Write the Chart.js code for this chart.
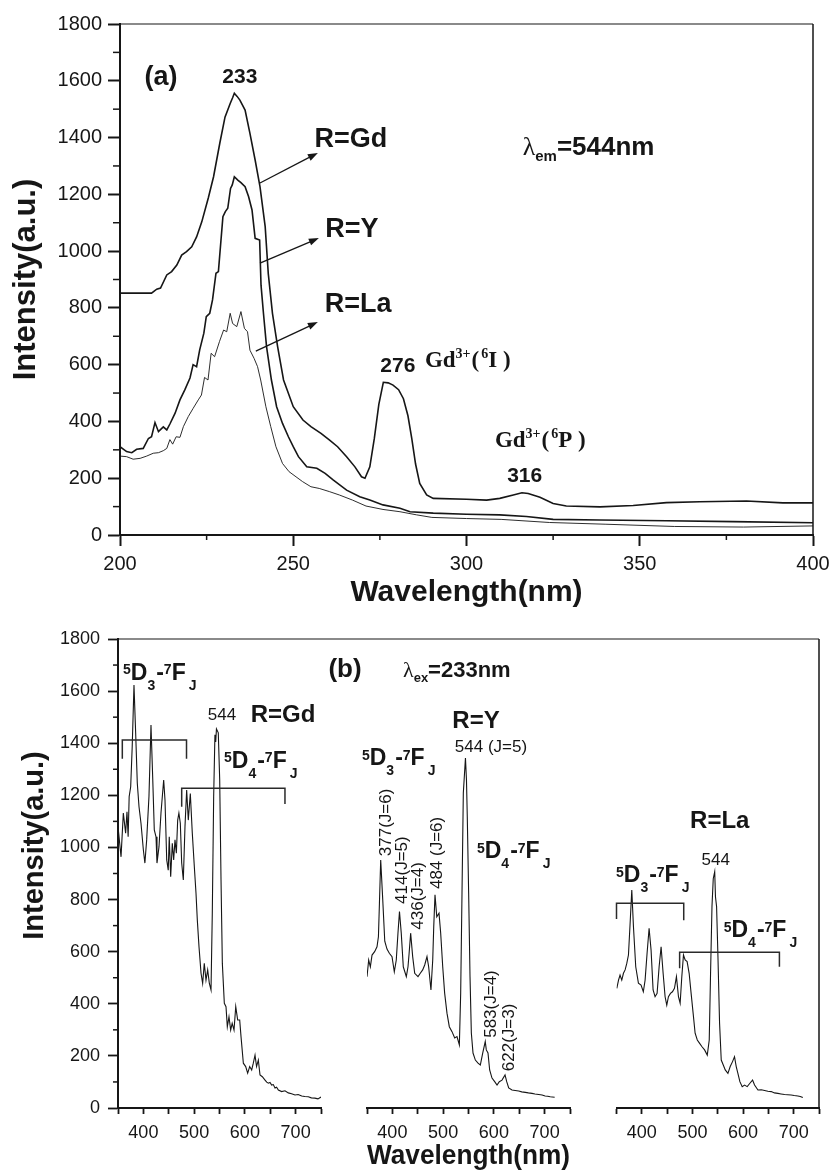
<!DOCTYPE html>
<html>
<head>
<meta charset="utf-8">
<script src="https://cdn.jsdelivr.net/npm/chart.js@4.4.1/dist/chart.umd.min.js"></script>
<style>
  html, body { margin: 0; padding: 0; background: #fff; }
  #wrap { position: relative; width: 832px; height: 1174px; overflow: hidden; }
  .pane { position: absolute; left: 0; }
  #excPane { top: 0; }
  #emPane { top: 620px; }
</style>
</head>
<body>
<div id="wrap">
  <div class="pane" id="excPane"><canvas id="exc" width="832" height="620"></canvas></div>
  <div class="pane" id="emPane"><canvas id="em" width="832" height="554"></canvas></div>
</div>
<script>
// ---------- (a) excitation spectra, monitored at 544 nm ----------
const excPeaks = [233, 276, 316];

const excGdNm = [200, 209.1, 210.6, 211.7, 213.5, 214.9, 216.4, 217.8, 219.2, 220.7, 222.1, 223.6, 225.5, 227, 228.8, 230.3, 231.8, 232.5, 233, 233.8, 234.6, 236.1, 237.5, 239, 240.4, 241.9, 242.8, 244, 245.5, 247.2, 250, 252.8, 255.1, 258, 260.4, 262.8, 265.4, 267.8, 269.7, 270.7, 272.1, 273.4, 274.7, 276, 277.4, 278.8, 280.4, 281.8, 283.1, 284.2, 285.3, 286.5, 288.5, 290.4, 300, 305.8, 309.6, 313.5, 316, 317.8, 321.2, 325, 328.8, 338.5, 348.1, 357.7, 367.3, 380.8, 391.3, 400, 402.7];
const excGdI  = [852, 852, 866, 870, 916, 928, 951, 986, 998, 1015, 1050, 1103, 1188, 1262, 1380, 1472, 1520, 1540, 1556, 1545, 1532, 1497, 1415, 1321, 1227, 1086, 920, 781, 663, 546, 452, 405, 382, 358, 335, 311, 276, 240, 205, 200, 240, 340, 460, 538, 536, 528, 512, 480, 420, 340, 250, 182, 141, 129, 126, 123, 129, 141, 149, 146, 133, 111, 102, 99, 104, 114, 117, 120, 113, 113, 113];

const excYNm = [200, 201.9, 203.4, 204.8, 206.7, 208.2, 209.1, 210.1, 211.1, 212.5, 213.5, 214.4, 215.9, 217.3, 218.7, 220.2, 221.1, 222.1, 223, 224.2, 224.9, 225.9, 226.7, 227.7, 228.4, 229.7, 230.4, 231.1, 231.9, 232.4, 233, 234, 234.9, 236.1, 237.1, 238.1, 239, 240.3, 240.7, 241.4, 242.3, 243.7, 245.2, 246.9, 248.6, 250, 251.5, 253.9, 256.8, 259.2, 261.5, 265.4, 269.2, 272.1, 275.9, 280.8, 283.7, 290.4, 300, 309.6, 317.3, 325, 338.5, 357.7, 376.9, 400];
const excYI  = [311, 294, 290, 302, 305, 340, 346, 396, 364, 381, 370, 391, 429, 476, 511, 553, 600, 593, 652, 711, 769, 781, 828, 922, 928, 1121, 1139, 1151, 1221, 1233, 1262, 1250, 1241, 1227, 1192, 1145, 1045, 1039, 880, 781, 663, 546, 452, 393, 346, 311, 276, 240, 235, 217, 194, 158, 135, 123, 106, 94, 82, 77, 73, 71, 65, 55, 53, 50, 47, 43];

const excLaNm = [200, 201.9, 203.8, 205.8, 207.7, 209.6, 211.1, 212.5, 213.5, 214.4, 215.2, 216.2, 217.3, 218.3, 219.7, 221.1, 222.6, 223.5, 224.4, 225.4, 226.3, 227.3, 228.7, 229.9, 230.8, 231.8, 232.5, 233.7, 234.9, 235.9, 236.8, 237.5, 238.7, 239.7, 240.6, 242.1, 243.5, 245, 246.9, 248.8, 250.8, 252.7, 255.1, 257.5, 260.4, 263.3, 267.1, 271, 275.9, 280.8, 285.6, 290, 300, 310, 324, 340, 360, 380, 400];
const excLaI  = [278, 276, 267, 270, 278, 288, 290, 297, 305, 336, 320, 346, 344, 382, 417, 446, 476, 493, 555, 546, 640, 628, 681, 722, 716, 781, 745, 734, 787, 728, 716, 651, 622, 593, 546, 452, 382, 311, 252, 223, 205, 188, 170, 164, 153, 141, 123, 102, 90, 82, 71, 62, 58, 55, 44, 38, 30, 28, 32];

// ---------- (b) emission spectra, excited at 233 nm ----------
const emGdNm = [350, 356, 360.5, 365, 367.7, 370, 372, 375, 378, 381.5, 384.8, 388, 391.4, 395.3, 400, 403, 406.5, 411, 415, 418.3, 421.5, 424.9, 426.8, 430.8, 434.7, 440, 442.6, 446, 449, 451, 453.8, 457, 459.7, 462.3, 465, 467.6, 470, 472.8, 475.5, 478.7, 482, 485.3, 488.5, 492.5, 496.4, 500.4, 503.7, 506.3, 509.6, 513.6, 516.8, 520, 523.4, 526.7, 530, 533.3, 535.8, 538.5, 541, 542.5, 544, 547.6, 550.4, 553, 555.6, 559.5, 562.8, 565.4, 568.7, 572, 575, 578.6, 582, 585.8, 589.8, 592.4, 597, 601.6, 605.5, 609.5, 613.4, 616.6, 620, 623, 626.5, 629.8, 634.4, 639.7, 643, 646.2, 649.5, 652.8, 656, 659.4, 662.5, 666, 672.5, 679, 685.6, 692, 698.8, 705, 712, 718, 725, 731, 738, 744, 750];
const emGdI  = [1080, 964, 1132, 1055, 1137, 1041, 1195, 1233, 1387, 1623, 1439, 1247, 1156, 1093, 990, 940, 1029, 1195, 1470, 1272, 1067, 1041, 940, 1003, 1132, 1259, 1182, 952, 913, 1041, 888, 1016, 952, 1029, 978, 1105, 1132, 1093, 940, 875, 1080, 1220, 1105, 1207, 1055, 926, 824, 721, 619, 517, 478, 555, 491, 530, 478, 453, 747, 1195, 1432, 1405, 1455, 1440, 1259, 875, 555, 402, 389, 312, 350, 299, 325, 299, 389, 338, 338, 274, 172, 159, 134, 159, 146, 172, 203, 159, 184, 127, 120, 107, 99, 95, 98, 88, 90, 77, 80, 69, 63, 66, 58, 55, 50, 52, 46, 44, 43, 39, 38, 35, 42];

const emYNm = [350, 353.3, 356.6, 359.9, 365, 369.7, 372.5, 374.5, 377, 381, 385, 389.4, 394, 399.3, 403.8, 407.7, 411, 414, 417.5, 421.5, 427.5, 430.8, 433, 436, 440, 444, 450.5, 455, 459.7, 463.7, 468.2, 471.5, 476, 479.5, 481.5, 484, 487.5, 491.9, 495.2, 499.2, 503, 507.6, 512.2, 517.5, 522.8, 527.3, 532, 534.6, 537.2, 539.8, 544, 546, 547.6, 550.3, 553, 555.6, 558.9, 563.5, 568.8, 573.3, 578, 583, 585.1, 588.4, 591.7, 596.3, 601.6, 606.2, 610.7, 616, 622, 625.3, 629.2, 635.7, 642, 648.9, 655, 662, 668, 675, 681, 688.3, 695, 701, 706, 711, 715, 719.8];
const emYI  = [504, 568, 542, 587, 600, 619, 657, 786, 952, 800, 640, 610, 594, 581, 523, 568, 671, 754, 671, 542, 504, 542, 594, 671, 581, 517, 504, 517, 530, 549, 581, 542, 453, 568, 696, 818, 734, 748, 671, 542, 441, 364, 312, 293, 269, 274, 242, 441, 825, 1209, 1343, 1259, 1118, 825, 504, 288, 211, 184, 172, 165, 211, 255, 223, 211, 146, 115, 101, 88, 101, 107, 127, 101, 77, 69, 67, 65, 62, 60, 58, 56, 54, 52, 50, 46, 45, 43, 42, 41];

const emLaNm = [350.6, 354, 357, 360.4, 363.7, 367, 370.3, 373.6, 376.9, 380.2, 383.5, 388, 393.3, 398.5, 403, 406.5, 410.4, 414.4, 418.3, 422.3, 426.2, 430.2, 434.2, 438.1, 442.1, 446, 449.3, 452.6, 456.6, 460.5, 464.5, 468.4, 472.4, 475.7, 479, 482.3, 485.6, 489.5, 493.5, 497.4, 501.4, 505.3, 509.6, 514.2, 518.9, 524, 529.3, 533.2, 535.8, 538.6, 541.1, 544, 545.5, 547.7, 550.4, 553.6, 556.9, 560.9, 564.8, 570.1, 574.6, 579.2, 583.1, 586.5, 589.8, 593.7, 598.3, 602.9, 608.2, 613.5, 618.8, 622.7, 629.4, 636, 642.5, 649, 655.7, 662, 668.8, 675, 682, 688, 695, 701, 708.2, 713, 718];
const emLaI  = [459, 491, 510, 491, 517, 530, 555, 587, 709, 837, 696, 542, 479, 472, 446, 491, 594, 690, 606, 453, 427, 440, 542, 619, 517, 427, 395, 427, 440, 446, 459, 504, 427, 402, 504, 587, 568, 562, 517, 440, 363, 287, 261, 248, 235, 223, 203, 261, 517, 773, 880, 907, 811, 773, 581, 325, 184, 165, 146, 133, 159, 178, 197, 159, 133, 101, 82, 88, 82, 95, 107, 88, 69, 70, 67, 64, 63, 58, 56, 54, 52, 51, 50, 48, 46, 44, 40];

// ---------- shared styling ----------
const SANS = "'Liberation Sans', Arial, Helvetica, sans-serif";
const SERIF = "'Liberation Serif', 'Times New Roman', serif";
const INK = '#161616';
const F = (size, weight = 'bold', fam = SANS) => `${weight} ${size}px ${fam}`;
const pts = (xs, ys) => xs.map((x, i) => ({ x, y: ys[i] }));

Chart.defaults.font.family = SANS;
Chart.defaults.color = INK;

// ⁵D₃-⁷F_J style term symbols
function termRuns(lower, size) {
  const big = F(size), small = F(Math.round(size * 0.6));
  const up = -size * 0.24, down = size * 0.44;
  return [
    { t: '5', font: small, dy: up },
    { t: 'D', font: big },
    { t: lower, font: small, dy: down },
    { t: '-', font: big, dx: 1 },
    { t: '7', font: small, dy: up },
    { t: 'F', font: big },
    { t: 'J', font: small, dy: down, dx: 3 }
  ];
}
// λ_em / λ_ex labels
function lambdaRuns(sub, rest, size) {
  return [
    { t: 'λ', font: F(size, 'normal', SERIF) },
    { t: sub, font: F(Math.round(size * 0.58)), dy: size * 0.24 },
    { t: rest, font: F(size) }
  ];
}
// Gd³⁺(⁶X ) level labels
function gdRuns(level) {
  const big = F(23, 'bold', SERIF), small = F(14, 'bold', SERIF);
  return [
    { t: 'Gd', font: big },
    { t: '3+', font: small, dy: -9 },
    { t: '(', font: big, dx: 1 },
    { t: '6', font: small, dy: -9, dx: 2 },
    { t: level, font: big },
    { t: ' )', font: big }
  ];
}
function drawRuns(ctx, runs, x, y, align) {
  let total = 0;
  const widths = runs.map(r => {
    ctx.font = r.font;
    const w = ctx.measureText(r.t).width;
    total += w + (r.dx || 0);
    return w;
  });
  let cx = align === 'center' ? x - total / 2 : x;
  runs.forEach((r, i) => {
    cx += r.dx || 0;
    ctx.font = r.font;
    ctx.fillText(r.t, cx, y + (r.dy || 0));
    cx += widths[i];
  });
}

// ---------- plugins ----------
const minorTicks = {
  id: 'minorTicks',
  afterDraw(chart, args, opts) {
    const ctx = chart.ctx;
    ctx.save();
    ctx.strokeStyle = INK;
    ctx.lineWidth = 1.5;
    for (const m of opts.marks || []) {
      const s = chart.scales[m.axis];
      for (const v of m.values) {
        const p = s.getPixelForValue(v);
        ctx.beginPath();
        if (s.isHorizontal()) { ctx.moveTo(p, s.top); ctx.lineTo(p, s.top + m.len); }
        else { ctx.moveTo(s.right, p); ctx.lineTo(s.right - m.len, p); }
        ctx.stroke();
      }
    }
    ctx.restore();
  }
};

const frame = {
  id: 'frame',
  afterDraw(chart, args, opts) {
    const { ctx, chartArea: a } = chart;
    ctx.save();
    ctx.strokeStyle = INK;
    ctx.lineWidth = opts.topWidth || 1.2;
    ctx.beginPath(); ctx.moveTo(a.left, a.top); ctx.lineTo(a.right, a.top); ctx.stroke();
    ctx.lineWidth = opts.rightWidth || 1.5;
    ctx.beginPath(); ctx.moveTo(a.right, a.top); ctx.lineTo(a.right, a.bottom); ctx.stroke();
    if (opts.yTitle) {
      const t = opts.yTitle;
      ctx.fillStyle = INK;
      ctx.font = t.font;
      ctx.textAlign = 'center';
      ctx.textBaseline = 'middle';
      ctx.translate(t.x, (a.top + a.bottom) / 2 + t.shift);
      ctx.rotate(-Math.PI / 2);
      ctx.fillText(t.text, 0, 0);
    }
    ctx.restore();
  }
};

const annot = {
  id: 'annot',
  afterDatasetsDraw(chart, args, opts) {
    const ctx = chart.ctx;
    const ys = chart.scales.y;
    ctx.save();
    ctx.fillStyle = INK;
    ctx.strokeStyle = INK;
    ctx.textAlign = 'left';
    ctx.textBaseline = 'alphabetic';
    for (const it of opts.items || []) {
      const xs = chart.scales[it.axis || 'x'];
      if (it.type === 'text') {
        drawRuns(ctx, it.runs, xs.getPixelForValue(it.x), ys.getPixelForValue(it.y), it.align || 'left');
      } else if (it.type === 'vtext') {
        ctx.save();
        ctx.font = it.font;
        ctx.textAlign = 'center';
        ctx.textBaseline = 'middle';
        ctx.translate(xs.getPixelForValue(it.x), ys.getPixelForValue(it.y));
        ctx.rotate(-Math.PI / 2);
        ctx.fillText(it.text, 0, 0);
        ctx.restore();
      } else if (it.type === 'arrow') {
        const x1 = xs.getPixelForValue(it.x1), y1 = ys.getPixelForValue(it.y1);
        const x2 = xs.getPixelForValue(it.x2), y2 = ys.getPixelForValue(it.y2);
        const a = Math.atan2(y2 - y1, x2 - x1), head = 10, half = 3.6;
        ctx.lineWidth = 1.3;
        ctx.beginPath();
        ctx.moveTo(x1, y1);
        ctx.lineTo(x2 - head * 0.7 * Math.cos(a), y2 - head * 0.7 * Math.sin(a));
        ctx.stroke();
        ctx.beginPath();
        ctx.moveTo(x2, y2);
        ctx.lineTo(x2 - head * Math.cos(a) + half * Math.sin(a), y2 - head * Math.sin(a) - half * Math.cos(a));
        ctx.lineTo(x2 - head * Math.cos(a) - half * Math.sin(a), y2 - head * Math.sin(a) + half * Math.cos(a));
        ctx.closePath();
        ctx.fill();
      } else if (it.type === 'bracket') {
        const x1 = xs.getPixelForValue(it.x1), x2 = xs.getPixelForValue(it.x2);
        ctx.lineWidth = 1.5;
        ctx.strokeStyle = '#2a2a2a';
        ctx.beginPath();
        ctx.moveTo(x1, ys.getPixelForValue(it.drop1));
        ctx.lineTo(x1, ys.getPixelForValue(it.y));
        ctx.lineTo(x2, ys.getPixelForValue(it.y));
        ctx.lineTo(x2, ys.getPixelForValue(it.drop2));
        ctx.stroke();
        ctx.strokeStyle = INK;
      }
    }
    ctx.restore();
  }
};

const plainText = (axis, x, y, text, font, align = 'center') =>
  ({ type: 'text', axis, x, y, runs: [{ t: text, font }], align });

// ---------- (a) annotations ----------
const excNotes = [
  plainText('x', 211.8, 1585, '(a)', F(27)),
  plainText('x', 234.6, 1592, String(excPeaks[0]), F(21)),
  plainText('x', 266.6, 1367, 'R=Gd', F(27)),
  plainText('x', 266.9, 1050, 'R=Y', F(27)),
  plainText('x', 268.7, 786, 'R=La', F(27)),
  { type: 'arrow', x1: 240.4, y1: 1240, x2: 257.1, y2: 1346 },
  { type: 'arrow', x1: 240.4, y1: 958, x2: 257.4, y2: 1046 },
  { type: 'arrow', x1: 239.2, y1: 648, x2: 257.1, y2: 750 },
  { type: 'text', x: 316.2, y: 1338, runs: lambdaRuns('em', '=544nm', 26) },
  plainText('x', 280.2, 574, String(excPeaks[1]), F(21)),
  { type: 'text', x: 288, y: 592, runs: gdRuns('I') },
  { type: 'text', x: 308.2, y: 310, runs: gdRuns('P') },
  plainText('x', 316.8, 187, String(excPeaks[2]), F(21))
];

// ---------- (b) annotations ----------
const emNotes = [
  { type: 'bracket', axis: 'xGd', x1: 358.5, x2: 485, y: 1412, drop1: 1340, drop2: 1340 },
  { type: 'bracket', axis: 'xGd', x1: 475.5, x2: 679, y: 1227, drop1: 1156, drop2: 1167 },
  { type: 'bracket', axis: 'xLa', x1: 350, x2: 482.8, y: 786, drop1: 725, drop2: 721 },
  { type: 'bracket', axis: 'xLa', x1: 474.7, x2: 671.8, y: 598, drop1: 536, drop2: 542 },
  { type: 'text', axis: 'xGd', x: 359.9, y: 1643, runs: termRuns('3', 23) },
  { type: 'text', axis: 'xGd', x: 558.9, y: 1305, runs: termRuns('4', 23) },
  plainText('xGd', 554.9, 1489, '544', F(17, 'normal')),
  plainText('xGd', 675.1, 1481, 'R=Gd', F(24)),
  plainText('xY', 306.6, 1654, '(b)', F(26)),
  { type: 'text', axis: 'xY', x: 420.9, y: 1654, runs: lambdaRuns('ex', '=233nm', 22) },
  { type: 'text', axis: 'xY', x: 340.1, y: 1316, runs: termRuns('3', 23) },
  plainText('xY', 564.8, 1458, 'R=Y', F(24)),
  plainText('xY', 594.3, 1366, '544 (J=5)', F(17, 'normal')),
  { type: 'text', axis: 'xY', x: 566.7, y: 959, runs: termRuns('4', 23) },
  { type: 'vtext', axis: 'xY', x: 388.4, y: 1096, text: '377(J=6)', font: F(17, 'normal') },
  { type: 'vtext', axis: 'xY', x: 419, y: 913, text: '414(J=5)', font: F(17, 'normal') },
  { type: 'vtext', axis: 'xY', x: 451.5, y: 814, text: '436(J=4)', font: F(17, 'normal') },
  { type: 'vtext', axis: 'xY', x: 488.9, y: 979, text: '484 (J=6)', font: F(17, 'normal') },
  { type: 'vtext', axis: 'xY', x: 594.3, y: 399, text: '583(J=4)', font: F(17, 'normal') },
  { type: 'vtext', axis: 'xY', x: 630.8, y: 271, text: '622(J=3)', font: F(17, 'normal') },
  plainText('xLa', 553.9, 1075, 'R=La', F(24)),
  plainText('xLa', 546.1, 933, '544', F(17, 'normal')),
  { type: 'text', axis: 'xLa', x: 349, y: 867, runs: termRuns('3', 23) },
  { type: 'text', axis: 'xLa', x: 561.8, y: 656, runs: termRuns('4', 23) }
];

const intLabel = v => String(v);

// ---------- (a) chart ----------
new Chart(document.getElementById('exc'), {
  type: 'line',
  data: {
    datasets: [
      { label: 'R=Gd', data: pts(excGdNm, excGdI), borderColor: INK, borderWidth: 1.6,
        clip: { left: 0, top: 0, right: 12, bottom: 0 } },
      { label: 'R=Y', data: pts(excYNm, excYI), borderColor: INK, borderWidth: 1.6 },
      { label: 'R=La', data: pts(excLaNm, excLaI), borderColor: INK, borderWidth: 0.9 }
    ]
  },
  options: {
    responsive: false,
    animation: false,
    events: [],
    elements: { point: { radius: 0 }, line: { tension: 0, fill: false } },
    layout: { padding: { top: 24, right: 19, left: 0, bottom: 0 } },
    plugins: {
      legend: { display: false },
      tooltip: { enabled: false },
      minorTicks: { marks: [
        { axis: 'y', values: [100, 300, 500, 700, 900, 1100, 1300, 1500, 1700], len: 7 },
        { axis: 'x', values: [225, 275, 325, 375], len: 5 }
      ] },
      frame: { topWidth: 1.2, rightWidth: 1.5 },
      annot: { items: excNotes }
    },
    scales: {
      x: {
        type: 'linear', min: 200, max: 400, position: 'bottom',
        ticks: { stepSize: 50, font: { size: 20 }, color: INK, padding: 6, maxRotation: 0, autoSkip: false, callback: intLabel },
        grid: { drawOnChartArea: false, drawTicks: true, tickLength: 11, tickWidth: 2, tickColor: INK },
        border: { display: true, width: 2, color: INK },
        title: { display: true, text: 'Wavelength(nm)', font: { size: 30, weight: 'bold' }, color: INK, padding: { top: 0, bottom: 9 } },
        afterFit: s => { s.height = 85; s.paddingLeft = 0; s.paddingRight = 0; }
      },
      y: {
        type: 'linear', min: 0, max: 1800, position: 'left',
        ticks: { stepSize: 200, font: { size: 20 }, color: INK, padding: 6, autoSkip: false, callback: intLabel },
        grid: { drawOnChartArea: false, drawTicks: true, tickLength: 12, tickWidth: 2, tickColor: INK },
        border: { display: true, width: 2, color: INK },
        title: { display: true, text: 'Intensity(a.u.)', font: { size: 31, weight: 'bold' }, color: INK, padding: { top: 8, bottom: 0 } },
        afterFit: s => { s.width = 120; }
      }
    }
  },
  plugins: [minorTicks, frame, annot]
});

// ---------- (b) chart: three spectra side by side on one intensity axis ----------
function panelAxis(weight, share, title) {
  return {
    type: 'linear', axis: 'x', position: 'bottom', stack: 'em', stackWeight: share, weight,
    min: 350, max: 750,
    ticks: { stepSize: 50, font: { size: 18 }, color: INK, padding: 8, maxRotation: 0, minRotation: 0, autoSkip: false,
             callback: v => (v % 100 === 0 ? String(v) : '') },
    grid: { drawOnChartArea: false, drawTicks: true, tickLength: 6, tickWidth: 1.8, tickColor: INK },
    border: { display: true, width: 2, color: INK },
    title: title ? { display: true, text: title, font: { size: 28, weight: 'bold' }, color: INK, padding: { top: 0, bottom: 1 } }
                 : { display: false },
    afterFit: s => { s.height = 66; s.paddingLeft = 0; s.paddingRight = 0; }
  };
}
function spacerAxis(weight, share) {
  return {
    type: 'linear', axis: 'x', position: 'bottom', stack: 'em', stackWeight: share, weight,
    min: 0, max: 1,
    ticks: { display: false },
    grid: { display: false, drawTicks: false },
    border: { display: false },
    afterFit: s => { s.height = 66; s.paddingLeft = 0; s.paddingRight = 0; }
  };
}

new Chart(document.getElementById('em'), {
  type: 'line',
  data: {
    datasets: [
      { label: 'R=Gd', data: pts(emGdNm, emGdI), xAxisID: 'xGd', yAxisID: 'y', borderColor: INK, borderWidth: 1.1 },
      { label: 'R=Y', data: pts(emYNm, emYI), xAxisID: 'xY', yAxisID: 'y', borderColor: INK, borderWidth: 1.1 },
      { label: 'R=La', data: pts(emLaNm, emLaI), xAxisID: 'xLa', yAxisID: 'y', borderColor: INK, borderWidth: 1.1 }
    ]
  },
  options: {
    responsive: false,
    animation: false,
    events: [],
    elements: { point: { radius: 0 }, line: { tension: 0, fill: false } },
    layout: { padding: { top: 19, right: 13, left: 0, bottom: 0 } },
    plugins: {
      legend: { display: false },
      tooltip: { enabled: false },
      minorTicks: { marks: [
        { axis: 'y', values: [100, 300, 500, 700, 900, 1100, 1300, 1500, 1700], len: 5 }
      ] },
      frame: { topWidth: 1.2, rightWidth: 1.5,
               yTitle: { text: 'Intensity(a.u.)', font: F(29), x: 35, shift: -28 } },
      annot: { items: emNotes }
    },
    scales: {
      xGd: panelAxis(1, 203),
      gap1: spacerAxis(2, 46),
      xY: panelAxis(3, 203, 'Wavelength(nm)'),
      gap2: spacerAxis(4, 46.5),
      xLa: panelAxis(5, 202.5),
      y: {
        type: 'linear', min: 0, max: 1800, position: 'left',
        ticks: { stepSize: 200, font: { size: 18 }, color: INK, padding: 8, autoSkip: false, callback: intLabel },
        grid: { drawOnChartArea: false, drawTicks: true, tickLength: 10, tickWidth: 1.8, tickColor: INK },
        border: { display: true, width: 2, color: INK },
        title: { display: false },
        afterFit: s => { s.width = 118; }
      }
    }
  },
  plugins: [minorTicks, frame, annot]
});
</script>
</body>
</html>
